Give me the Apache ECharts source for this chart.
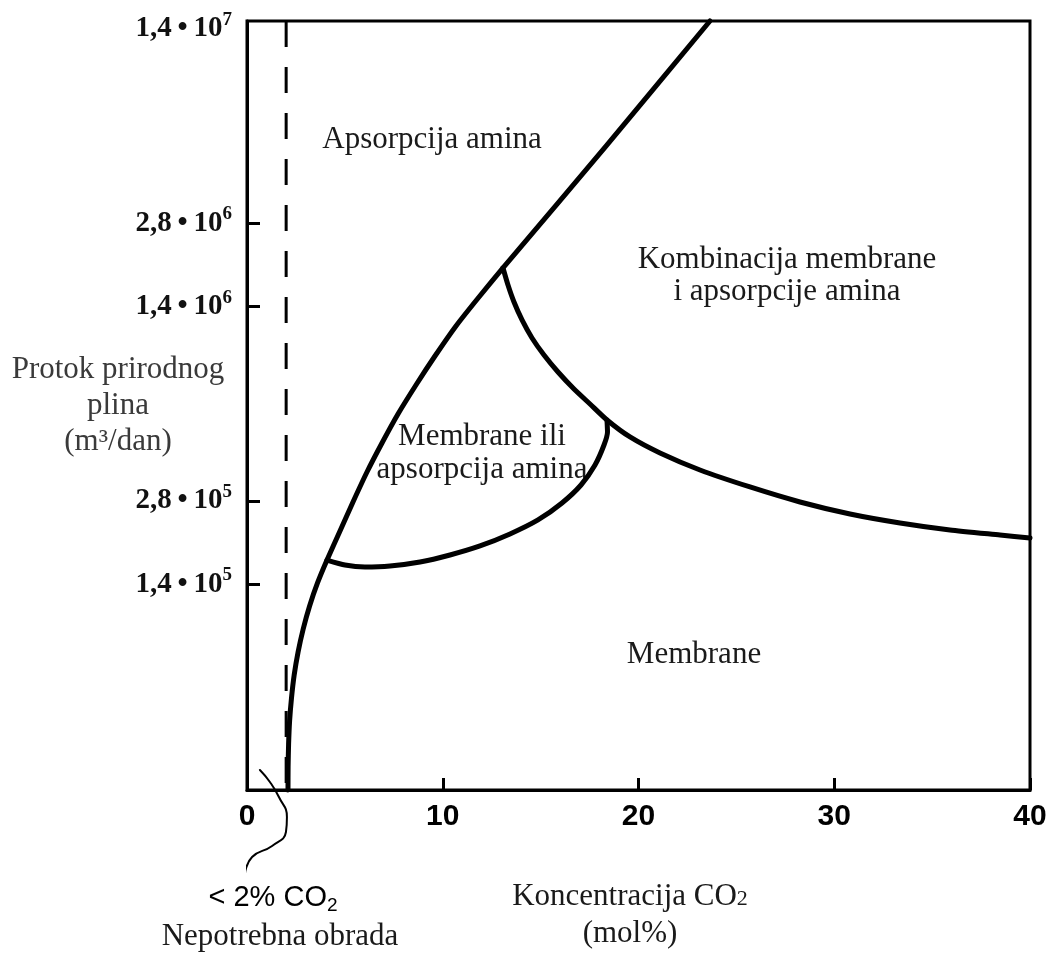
<!DOCTYPE html>
<html><head><meta charset="utf-8">
<script src="https://cdn.jsdelivr.net/npm/echarts@6/dist/echarts.min.js"></script>
<style>html,body{margin:0;padding:0;background:#fff}#c{width:1051px;height:953px}</style>
</head><body><div id="c"></div>
<script>
// ---- axis ticks ----
const xTickValues = [0, 10, 20, 30, 40];
const yTickValues = [1.4e5, 2.8e5, 1.4e6, 2.8e6, 1.4e7];
const yTickMantissa = ['1,4', '2,8', '1,4', '2,8', '1,4'];
const yTickExponent = ['5', '5', '6', '6', '7'];
const yMarkedTicks = [1.4e5, 2.8e5, 1.4e6, 2.8e6];

// ---- boundaries: [CO2 mol%, flow m3/dan] ----
const boundaryAmine = [
  [2.094, 25480], [2.100, 30830], [2.125, 37310], [2.176, 45130], [2.273, 54620],
  [2.411, 66110], [2.610, 79980], [2.871, 96780], [3.198, 117100], [3.602, 141700],
  [4.087, 171400], [4.751, 218000], [5.415, 277300], [6.130, 355500], [6.897, 452200],
  [7.714, 575000], [8.633, 731400], [9.604, 929800], [10.677, 1.193e6], [11.852, 1.517e6],
  [13.078, 1.929e6], [18.34, 5.298e6], [23.65, 1.494e7]
];
const boundaryMembraneLower = [
  [4.087, 171400], [5.006, 164500], [6.028, 161800], [7.305, 163100], [8.838, 168600],
  [10.370, 178700], [11.903, 192600], [13.436, 212700], [14.866, 238900], [16.092, 275000],
  [17.063, 319200], [17.778, 376800], [18.238, 444700], [18.416, 495400], [18.39, 547100]
];
const boundaryCombination = [
  [13.078, 1.929e6], [13.333, 1.675e6], [13.640, 1.455e6], [14.049, 1.254e6], [14.560, 1.080e6],
  [15.172, 937600], [15.888, 814500], [16.705, 707300], [17.522, 624700], [18.39, 547100],
  [19.566, 475300], [21.099, 416200], [23.142, 361500], [25.696, 314000], [28.250, 277300],
  [30.805, 251000], [33.359, 233000], [35.913, 219900], [38.467, 210900], [40.0, 205700]
];
const noTreatmentLimit = [[2, 1.494e7], [2, 25480]];
const leaderLine = [
  [0.66, 3.008e4], [1.17, 2.723e4], [1.63, 2.404e4], [2.04, 2.037e4], [1.99, 1.799e4],
  [1.28, 1.602e4], [0.26, 1.462e4], [-0.10, 1.280e4]
];
const yMin = 25480, yMax = 1.494e7;

const serif = '"Liberation Serif", "Times New Roman", serif';
const sans = '"Liberation Sans", Arial, sans-serif';

const chart = echarts.init(document.getElementById('c'), null, { renderer: 'canvas' });

function curve(data, width, extra) {
  return Object.assign({
    type: 'line', data: data, symbol: 'none', smooth: 0.2, clip: false,
    lineStyle: { color: '#000', width: width, cap: 'round', join: 'round' }, silent: true, z: 3
  }, extra || {});
}

chart.setOption({
  animation: false,
  backgroundColor: '#fff',
  grid: { left: 247, right: 21, top: 21, bottom: 163, show: true, borderColor: '#000', borderWidth: 3,
          containLabel: false, outerBoundsMode: 'none' },
  xAxis: {
    type: 'value', min: 0, max: 40, interval: 10,
    axisLine: { lineStyle: { color: '#000', width: 3 } },
    axisTick: { inside: true, length: 12, lineStyle: { color: '#000', width: 3 } },
    axisLabel: { fontFamily: sans, fontWeight: 'bold', fontSize: 30, color: '#000', margin: 12,
                 formatter: v => String(v) },
    splitLine: { show: false }
  },
  yAxis: {
    type: 'log', logBase: 10, min: yMin, max: yMax,
    name: 'Protok prirodnog\nplina\n(m³/dan)',
    nameLocation: 'middle', nameRotate: 0, nameGap: 129, nameMoveOverlap: false,
    nameTextStyle: { fontFamily: serif, fontSize: 31, lineHeight: 36, color: '#3a3a3a', align: 'center', verticalAlign: 'middle' },
    axisLine: { lineStyle: { color: '#000', width: 3 } },
    axisTick: { inside: true, length: 13, lineStyle: { color: '#000', width: 3 }, customValues: yMarkedTicks },
    minorTick: { show: false },
    axisLabel: {
      customValues: yTickValues, margin: 15, color: '#111',
      formatter: function (v) {
        const i = yTickValues.findIndex(t => Math.abs(t - v) / t < 1e-6);
        if (i < 0) return '';
        return '{m|' + yTickMantissa[i] + '\u2009•\u2009' + '10}{e|' + yTickExponent[i] + '}';
      },
      rich: {
        m: { fontFamily: serif, fontWeight: 'bold', fontSize: 29, color: '#111' },
        e: { fontFamily: serif, fontWeight: 'bold', fontSize: 19, color: '#111', padding: [0, 0, 18, 0] }
      }
    },
    splitLine: { show: false }
  },
  series: [
    curve(noTreatmentLimit, 3, { smooth: false, lineStyle: { color: '#000', width: 3, type: [26, 20] } }),
    curve(boundaryAmine, 5),
    curve(boundaryMembraneLower, 5),
    curve(boundaryCombination, 5),
    curve(leaderLine, 2, { smooth: 0.5 })
  ],
  graphic: [
    { type: 'text', x: 432, y: 140, style: { text: 'Apsorpcija amina', font: '31px ' + serif, fill: '#1a1a1a', align: 'center', verticalAlign: 'middle' } },
    { type: 'text', x: 787, y: 276, style: { text: 'Kombinacija membrane\ni apsorpcije amina', font: '31px ' + serif, lineHeight: 32, fill: '#1a1a1a', align: 'center', verticalAlign: 'middle' } },
    { type: 'text', x: 482, y: 453, style: { text: 'Membrane ili\napsorpcija amina', font: '31px ' + serif, lineHeight: 33, fill: '#1a1a1a', align: 'center', verticalAlign: 'middle' } },
    { type: 'text', x: 694, y: 655, style: { text: 'Membrane', font: '31px ' + serif, fill: '#1a1a1a', align: 'center', verticalAlign: 'middle' } },
    { type: 'text', x: 630, y: 915, style: {
        text: '{a|Koncentracija CO}{b|2}\n{a|(mol%)}', align: 'center', verticalAlign: 'middle', fill: '#1a1a1a',
        rich: { a: { font: '31px ' + serif, fill: '#1a1a1a', lineHeight: 37 },
                b: { font: '22px ' + serif, fill: '#1a1a1a', padding: [6, 0, 0, 0], lineHeight: 37 } } } },
    { type: 'text', x: 273, y: 898, style: {
        text: '{a|< 2% CO}{b|2}', align: 'center', verticalAlign: 'middle', fill: '#000',
        rich: { a: { font: '29px ' + sans, fill: '#000' },
                b: { font: '19px ' + sans, fill: '#000', padding: [16, 0, 0, 0] } } } },
    { type: 'text', x: 280, y: 937, style: { text: 'Nepotrebna obrada', font: '31px ' + serif, fill: '#1a1a1a', align: 'center', verticalAlign: 'middle' } }
  ]
});
</script>
</body></html>
